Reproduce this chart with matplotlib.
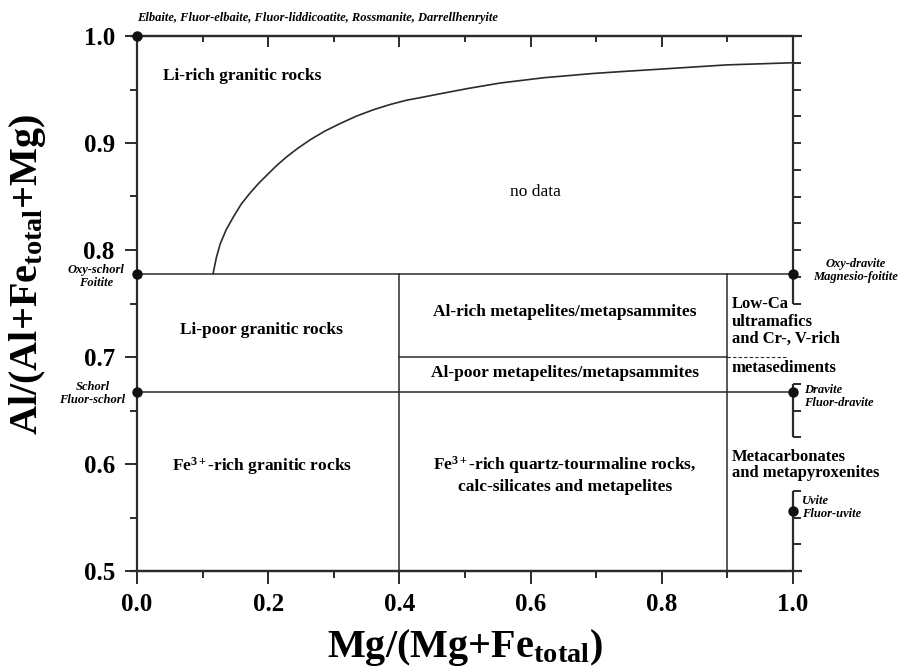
import matplotlib
matplotlib.use("Agg")
import matplotlib.pyplot as plt
from matplotlib.ticker import MultipleLocator

plt.rcParams['font.family'] = 'Liberation Serif'
plt.rcParams['font.weight'] = 'bold'
plt.rcParams['mathtext.fontset'] = 'custom'
plt.rcParams['mathtext.rm'] = 'Liberation Serif:bold'
plt.rcParams['mathtext.bf'] = 'Liberation Serif:bold'
plt.rcParams['mathtext.it'] = 'Liberation Serif:bold:italic'

# boundary curve of the Li-rich field
curve_x = [0.116, 0.121, 0.127, 0.136, 0.147, 0.159, 0.172, 0.185, 0.198, 0.213,
           0.228, 0.245, 0.264, 0.286, 0.309, 0.334, 0.360, 0.386, 0.411, 0.437,
           0.462, 0.505, 0.553, 0.620, 0.696, 0.745, 0.797, 0.848, 0.899, 0.950,
           1.000]
curve_y = [0.778, 0.793, 0.806, 0.819, 0.831, 0.843, 0.853, 0.862, 0.870, 0.879,
           0.887, 0.895, 0.903, 0.911, 0.918, 0.925, 0.931, 0.936, 0.940, 0.943,
           0.946, 0.951, 0.956, 0.961, 0.965, 0.967, 0.969, 0.971, 0.973, 0.974,
           0.975]

# field boundaries: (y, x_from, x_to) and (x, y_from, y_to)
hlines = [(0.778, 0.0, 1.0), (0.667, 0.0, 1.0), (0.70, 0.4, 0.9)]
vlines = [(0.4, 0.5, 0.778), (0.9, 0.5, 0.778)]
dashed = (0.70, 0.9, 0.992)

# end-member compositions
end_x = [0.0, 0.0, 0.0, 1.0, 1.0, 1.0]
end_y = [1.0, 0.778, 0.667, 0.778, 0.667, 0.556]

xticks = [0.0, 0.2, 0.4, 0.6, 0.8, 1.0]
yticks = [0.5, 0.6, 0.7, 0.8, 0.9, 1.0]

fig = plt.figure(figsize=(9.1, 6.72), dpi=100)
ax = fig.add_axes([137/910, 1 - 571/672, 656/910, 535/672])
lc = '#2b2b2b'

ax.plot(curve_x, curve_y, color=lc, lw=1.2)
for y, x0, x1 in hlines:
    ax.plot([x0, x1], [y, y], color=lc, lw=1.1)
for x, y0, y1 in vlines:
    ax.plot([x, x], [y0, y1], color=lc, lw=1.1)
ax.plot([dashed[1], dashed[2]], [dashed[0], dashed[0]], color=lc, lw=0.8,
        ls=(0, (3, 2)))

ax.set_xlim(0, 1)
ax.set_ylim(0.5, 1.0)

# axes frame
for s in ['top', 'bottom', 'left']:
    ax.spines[s].set_linewidth(1.6)
    ax.spines[s].set_color(lc)
ax.spines['right'].set_visible(False)
for yy in [0.5, 1.0]:
    ax.plot([-0.011, 1.014], [yy, yy], color=lc, lw=1.6, clip_on=False,
            solid_capstyle='butt')
# right frame is broken where the labels sit
for y0, y1 in [(0.75, 1.0), (0.625, 0.675), (0.5, 0.575)]:
    ax.plot([1.0, 1.0], [y0, y1], color=lc, lw=1.6, clip_on=False,
            solid_capstyle='butt')

ax.set_xticks(xticks)
ax.set_xticklabels(['%.1f' % v for v in xticks])
ax.set_yticks(yticks)
ax.set_yticklabels(['%.1f' % v for v in yticks])
ax.xaxis.set_minor_locator(MultipleLocator(0.1))
ax.yaxis.set_minor_locator(MultipleLocator(0.05))
ax.tick_params(which='both', direction='out', top=False, right=False,
               color=lc, width=1.4)
ax.tick_params(which='major', length=9, labelsize=18, pad=7)
ax.tick_params(which='minor', length=5)

top = ax.secondary_xaxis('top')
top.set_xticks(xticks)
top.xaxis.set_minor_locator(MultipleLocator(0.1))
top.tick_params(which='both', direction='in', labeltop=False, color=lc, width=1.4)
top.tick_params(which='major', length=8)
top.tick_params(which='minor', length=4)
top.spines['top'].set_visible(False)

right_ticks = [0.975, 0.95, 0.925, 0.9, 0.875, 0.85, 0.825, 0.8, 0.775, 0.75,
               0.675, 0.65, 0.625, 0.575, 0.55, 0.525]
rgt = ax.secondary_yaxis('right')
rgt.set_yticks(right_ticks)
rgt.tick_params(direction='out', length=6, width=1.4, color=lc, labelright=False)
rgt.spines['right'].set_visible(False)

ax.plot(end_x, end_y, 'o', color='#111111', ms=6.5, clip_on=False, zorder=5)

# field names
big = 12.5
ax.text(0.04, 0.963, 'Li-rich granitic rocks', fontsize=big, va='center')
ax.text(0.608, 0.854, 'no data', fontsize=big, fontweight='normal',
        ha='center', va='center')
ax.text(0.19, 0.725, 'Li-poor granitic rocks', fontsize=big, ha='center', va='center')
ax.text(0.652, 0.742, 'Al-rich metapelites/metapsammites', fontsize=big,
        ha='center', va='center')
ax.text(0.652, 0.685, 'Al-poor metapelites/metapsammites', fontsize=big,
        ha='center', va='center')
ax.text(0.19, 0.598, r'Fe$^{3+}$-rich granitic rocks', fontsize=big,
        ha='center', va='center')
ax.text(0.652, 0.590, 'Fe$^{3+}$-rich quartz-tourmaline rocks,\ncalc-silicates and metapelites',
        fontsize=big, ha='center', va='center', linespacing=1.2)
ax.text(0.907, 0.733, 'Low-Ca\nultramafics\nand Cr-, V-rich', fontsize=12,
        va='center', linespacing=1.1)
ax.text(0.907, 0.690, 'metasediments', fontsize=12, va='center')
ax.text(0.907, 0.599, 'Metacarbonates\nand metapyroxenites', fontsize=12,
        va='center', linespacing=1.05)

# end-member names
sm = dict(fontsize=9, style='italic', va='center', linespacing=1.1)
ax.text(0.0, 1.017, 'Elbaite, Fluor-elbaite, Fluor-liddicoatite, Rossmanite, Darrellhenryite',
        clip_on=False, **sm)
ax.text(-0.062, 0.775, 'Oxy-schorl\nFoitite', ha='center', **sm)
ax.text(-0.068, 0.666, 'Schorl\nFluor-schorl', ha='center', **sm)
ax.text(1.095, 0.781, 'Oxy-dravite\nMagnesio-foitite', ha='center', **sm)
ax.text(1.017, 0.663, 'Dravite\nFluor-dravite', ha='left', **sm)
ax.text(1.014, 0.559, 'Uvite\nFluor-uvite', ha='left', **sm)

fig.text(465/910, 1 - 648/672, r'Mg/(Mg+Fe$_{\mathrm{total}}$)', fontsize=29,
         ha='center', va='center')
fig.text(28/910, 1 - 274/672, r'Al/(Al+Fe$_{\mathrm{total}}$+Mg)', fontsize=29,
         ha='center', va='center', rotation=90)

fig.savefig('out.png', dpi=100)
